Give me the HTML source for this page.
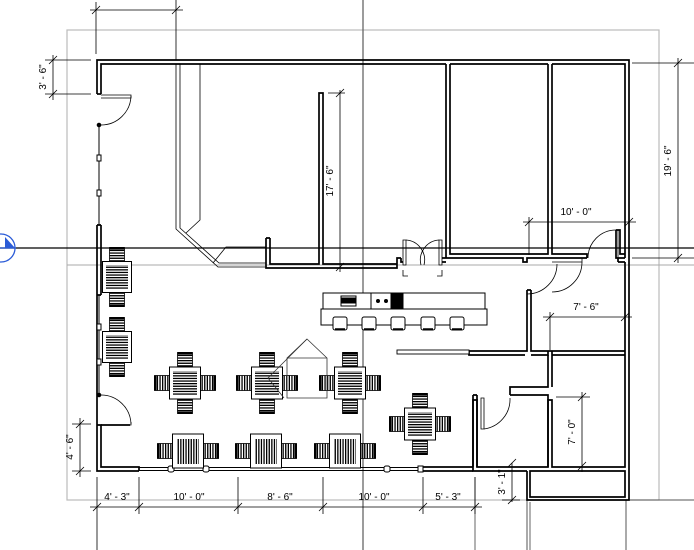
<!DOCTYPE html>
<html><head><meta charset="utf-8"><style>
html,body{margin:0;padding:0;background:#fff;}
svg{display:block;font-family:"Liberation Sans",sans-serif;}
</style></head><body>
<svg width="694" height="550" viewBox="0 0 694 550" xmlns="http://www.w3.org/2000/svg">
<defs>
<pattern id="hs" width="4" height="2.6" patternUnits="userSpaceOnUse"><rect width="4" height="1.3" fill="#000"/></pattern>
<pattern id="vs" width="2.6" height="4" patternUnits="userSpaceOnUse"><rect width="1.3" height="4" fill="#000"/></pattern>
<g id="chairV"><rect x="-7.5" y="-7.5" width="15" height="15" fill="url(#hs)" stroke="#000" stroke-width="0.8"/><rect x="-7.5" y="-8" width="15" height="2.5" fill="#000"/></g>
<g id="chairH"><rect x="-7.5" y="-7.5" width="15" height="15" fill="url(#vs)" stroke="#000" stroke-width="0.8"/><rect x="-8" y="-7.5" width="2.5" height="15" fill="#000"/></g>
<g id="t4">
<use href="#chairV" x="0" y="-23"/>
<use href="#chairV" transform="translate(0,23) rotate(180)"/>
<use href="#chairH" x="-23" y="0"/>
<use href="#chairH" transform="translate(23,0) rotate(180)"/>
<rect x="-15.5" y="-16" width="31" height="32" fill="#fff" stroke="#000" stroke-width="1"/>
<rect x="-12" y="-12" width="24" height="24" fill="url(#hs)"/>
</g>
<g id="t2">
<use href="#chairH" x="-23" y="0"/>
<use href="#chairH" transform="translate(23,0) rotate(180)"/>
<rect x="-15.5" y="-17" width="31" height="34" fill="#fff" stroke="#000" stroke-width="1"/>
<rect x="-11" y="-12" width="22" height="25" fill="url(#vs)"/>
</g>
<g id="t2v">
<use href="#chairV" x="0" y="-22"/>
<use href="#chairV" transform="translate(0,22) rotate(180)"/>
<rect x="-14.5" y="-15.5" width="29" height="31" fill="#fff" stroke="#000" stroke-width="1"/>
<rect x="-11" y="-12" width="22" height="24" fill="url(#hs)"/>
</g>
<g id="stool"><rect x="-7" y="-7" width="14" height="13" rx="2" fill="#fff" stroke="#000" stroke-width="1"/><line x1="-5" y1="5" x2="5" y2="5" stroke="#000" stroke-width="1.5"/></g>
</defs>

<rect x="67" y="30" width="592" height="470" fill="none" stroke="#bbb" stroke-width="1.2"/>
<line x1="67" y1="265" x2="694" y2="265" stroke="#aaa" stroke-width="1"/>
<line x1="363" y1="0" x2="363" y2="550" stroke="#666" stroke-width="1.3"/>
<line x1="0" y1="248" x2="694" y2="248" stroke="#000" stroke-width="1.2"/>
<circle cx="1" cy="248" r="14" fill="none" stroke="#2a5bd7" stroke-width="1.3"/>
<line x1="0" y1="248" x2="16" y2="248" stroke="#2a5bd7" stroke-width="1.3"/>
<path d="M5,237 L15,248 L5,248Z" fill="#2a5bd7"/>
<line x1="527" y1="500" x2="527" y2="550" stroke="#555"/>
<line x1="626" y1="500" x2="626" y2="550" stroke="#555"/>
<line x1="629" y1="500" x2="694" y2="500" stroke="#555"/>
<line x1="475" y1="477" x2="475" y2="550" stroke="#666"/>
<line x1="530" y1="502" x2="530" y2="550" stroke="#666"/>

<g fill="none" stroke="#000" stroke-width="1.7">
<path d="M97,94 V60 H629 V258"/>
<path d="M101,94 V64 H446 M450,64 H548 M552,64 H625 V258"/>
<path d="M97,94 H101"/>
<path d="M446,64 V258 M450,64 V254 H548 V64 M552,64 V254 H587 V258"/>
<path d="M446,258 H523 V262 H527 V258 H587"/>
<path d="M616,230 H620 V254 H625 M616,230 V258 H625"/>
<path d="M629,258 V500 H527 V471 M625,262 V467 H552 V400 H548 V467 H477 V400 H473 V471 H527"/>
<path d="M530,471 H625 V497 H530 Z"/>
<path d="M618,262 H625 M618,258 V262"/>
<path d="M97,225 V471 H139 M101,225 V295 M97,225 H101 M101,295 H97"/>
<path d="M97,425 H101 V467 H139 V471"/>
<path d="M101,425 H130"/>
<path d="M527,290 V351 H469 V355 H525 M531,290 V351 H625 M527,290 H531 M531,355 H548 V351"/>
<path d="M552,355 H625 M552,351 V355"/>
<path d="M510,395 V387 H548 V355 M510,395 H548 V467"/>
<path d="M552,355 V387"/>
<path d="M473,395 H477 M473,395 V467 M477,395 V467"/>
<path d="M423,467 H473 M423,471 H473"/>
<path d="M266,238 V268 H397 V258 H401 M270,238 V264 H319 V93 H323 V264 H397 M266,238 H270"/>
<path d="M401,258 V262 H403"/>
<path d="M442,258 H446 M442,262 H446"/>
</g>
<g stroke="#000" fill="none" stroke-width="1">
<line x1="99" y1="125" x2="99" y2="225"/>
<line x1="99" y1="295" x2="99" y2="395"/>
<rect x="97" y="155" width="4" height="6" fill="#fff"/>
<rect x="97" y="190" width="4" height="6" fill="#fff"/>
<rect x="97" y="324" width="4" height="6" fill="#fff"/>
<rect x="97" y="359" width="4" height="6" fill="#fff"/>
<circle cx="99" cy="125" r="1.8" fill="#000"/>
<circle cx="99" cy="395" r="1.8" fill="#000"/>
<path d="M139,467.5 H423 M139,470.5 H423"/>
<rect x="168" y="466" width="6" height="6" rx="2" fill="#fff"/>
<rect x="203" y="466" width="6" height="6" rx="2" fill="#fff"/>
<rect x="384" y="466" width="6" height="6" rx="2" fill="#fff"/>
<rect x="418" y="466" width="5" height="6" fill="#fff"/>
</g>
<g stroke="#000" fill="none" stroke-width="0.8">
<path d="M101,95 H131 V98 H101"/><path d="M131,96 A30,30 0 0 1 101,125"/>
<path d="M101,425 H131 V422"/><path d="M131,424 A30,30 0 0 0 101,395"/>
<path d="M403,240 V265 H406 V240Z M442,240 V265 H439 V240Z"/>
<path d="M406,240 A20,20 0 0 1 424,265 M439,240 A20,20 0 0 0 421,265"/>
<path d="M403,270 V276 H408 M442,270 V276 H437"/>
<path d="M616,230 H618 V258 H616Z"/><path d="M616,230 A28,28 0 0 0 588,258"/>
<path d="M552,258 H582 V262 H552"/><path d="M582,262 A30,30 0 0 1 552,292"/>
<path d="M527,294 A30,30 0 0 0 557,264"/>
<path d="M481,398 V429 H484 V398Z"/><path d="M484,429 A30,30 0 0 0 510,398"/>
</g>
<g stroke="#000" fill="none" stroke-width="0.8">
<path d="M176,64 V229 L218,267 H266"/>
<path d="M180,64 V228 L219,263 H266"/>
<path d="M200,64 V220 L186,233"/>
<path d="M213,263 L226,247 H266"/>
</g>
<g stroke="#000" fill="#fff" stroke-width="1">
<rect x="323" y="293" width="162" height="16"/>
<rect x="321" y="309" width="166" height="16"/>
<rect x="341" y="296" width="15" height="10" fill="#fff"/>
<rect x="342" y="298" width="13" height="5" fill="#000"/>
<rect x="371" y="293" width="20" height="16" fill="#fff"/>
<rect x="391" y="293" width="12" height="16" fill="#000"/>
<circle cx="378" cy="301" r="1.5" fill="#000"/><circle cx="386" cy="301" r="1.5" fill="#000"/>
<rect x="397" y="350" width="72" height="4" fill="#fff" stroke-width="0.9"/>
</g>
<use href="#stool" x="340" y="324"/>
<use href="#stool" x="369" y="324"/>
<use href="#stool" x="398" y="324"/>
<use href="#stool" x="428" y="324"/>
<use href="#stool" x="457" y="324"/>
<use href="#t4" x="185" y="383"/>
<use href="#t4" x="267" y="383"/>
<use href="#t4" x="350" y="383"/>
<use href="#t4" x="420" y="424"/>
<use href="#t2" x="188" y="451"/>
<use href="#t2" x="266" y="451"/>
<use href="#t2" x="345" y="451"/>
<use href="#t2v" x="117" y="277"/>
<use href="#t2v" x="117" y="347"/>
<g stroke="#333" fill="none" stroke-width="0.8">
<path d="M287,358 L307,339 L327,358 V398 H287 Z"/>
<path d="M307,339 L268,378 L284,398"/>
<line x1="287" y1="358" x2="327" y2="358"/>
</g>

<g stroke="#000" stroke-width="0.8" fill="none">
<path d="M96,2 V54 M176,0 V60 M90,10 H183 M92,14 L100,6 M172,14 L180,6"/>
<path d="M45,60 H91 M45,94 H91 M53,55 V100 M49,64 L57,56 M49,98 L57,90"/>
<path d="M340,90 V272 M328,93 H345 M336,97 L344,89 M336,271 L344,263"/>
<path d="M632,63 H694 M632,258 H694 M678,58 V263 M674,67 L682,59 M674,262 L682,254"/>
<path d="M523,222 H636 M529,217 V255 M525,226 L533,218 M625,226 L633,218"/>
<path d="M543,317 H632 M550,312 V350 M546,321 L554,313 M621,321 L629,313"/>
<path d="M556,397 H590 M582,392 V472 M578,401 L586,393 M578,470 L586,462"/>
<path d="M512,463 V502 M502,500 H520 M508,467 L516,459 M508,504 L516,496"/>
<path d="M72,424 H91 M72,471 H91 M80,418 V477 M76,428 L84,420 M76,475 L84,467"/>
<path d="M90,507 H482 M97,477 V550 M139,477 V514 M238,477 V514 M323,477 V514 M423,477 V514 M475,477 V514"/>
<path d="M93,511 L101,503 M135,511 L143,503 M234,511 L242,503 M319,511 L327,503 M419,511 L427,503 M471,511 L479,503"/>
</g>
<g font-size="10" fill="#000" stroke="none">
<text x="136" y="-1" text-anchor="middle">8' - 0"</text>
<text transform="translate(46,77) rotate(-90)" text-anchor="middle">3' - 6"</text>
<text transform="translate(333,181) rotate(-90)" text-anchor="middle">17' - 6"</text>
<text transform="translate(671,161) rotate(-90)" text-anchor="middle">19' - 6"</text>
<text x="576" y="215" text-anchor="middle">10' - 0"</text>
<text x="586" y="310" text-anchor="middle">7' - 6"</text>
<text transform="translate(575,432) rotate(-90)" text-anchor="middle">7' - 0"</text>
<text transform="translate(505,482) rotate(-90)" text-anchor="middle">3' - 1"</text>
<text transform="translate(73,447) rotate(-90)" text-anchor="middle">4' - 6"</text>
<text x="117" y="500" text-anchor="middle">4' - 3"</text>
<text x="189" y="500" text-anchor="middle">10' - 0"</text>
<text x="280" y="500" text-anchor="middle">8' - 6"</text>
<text x="374" y="500" text-anchor="middle">10' - 0"</text>
<text x="448" y="500" text-anchor="middle">5' - 3"</text>
</g>
</svg>
</body></html>
